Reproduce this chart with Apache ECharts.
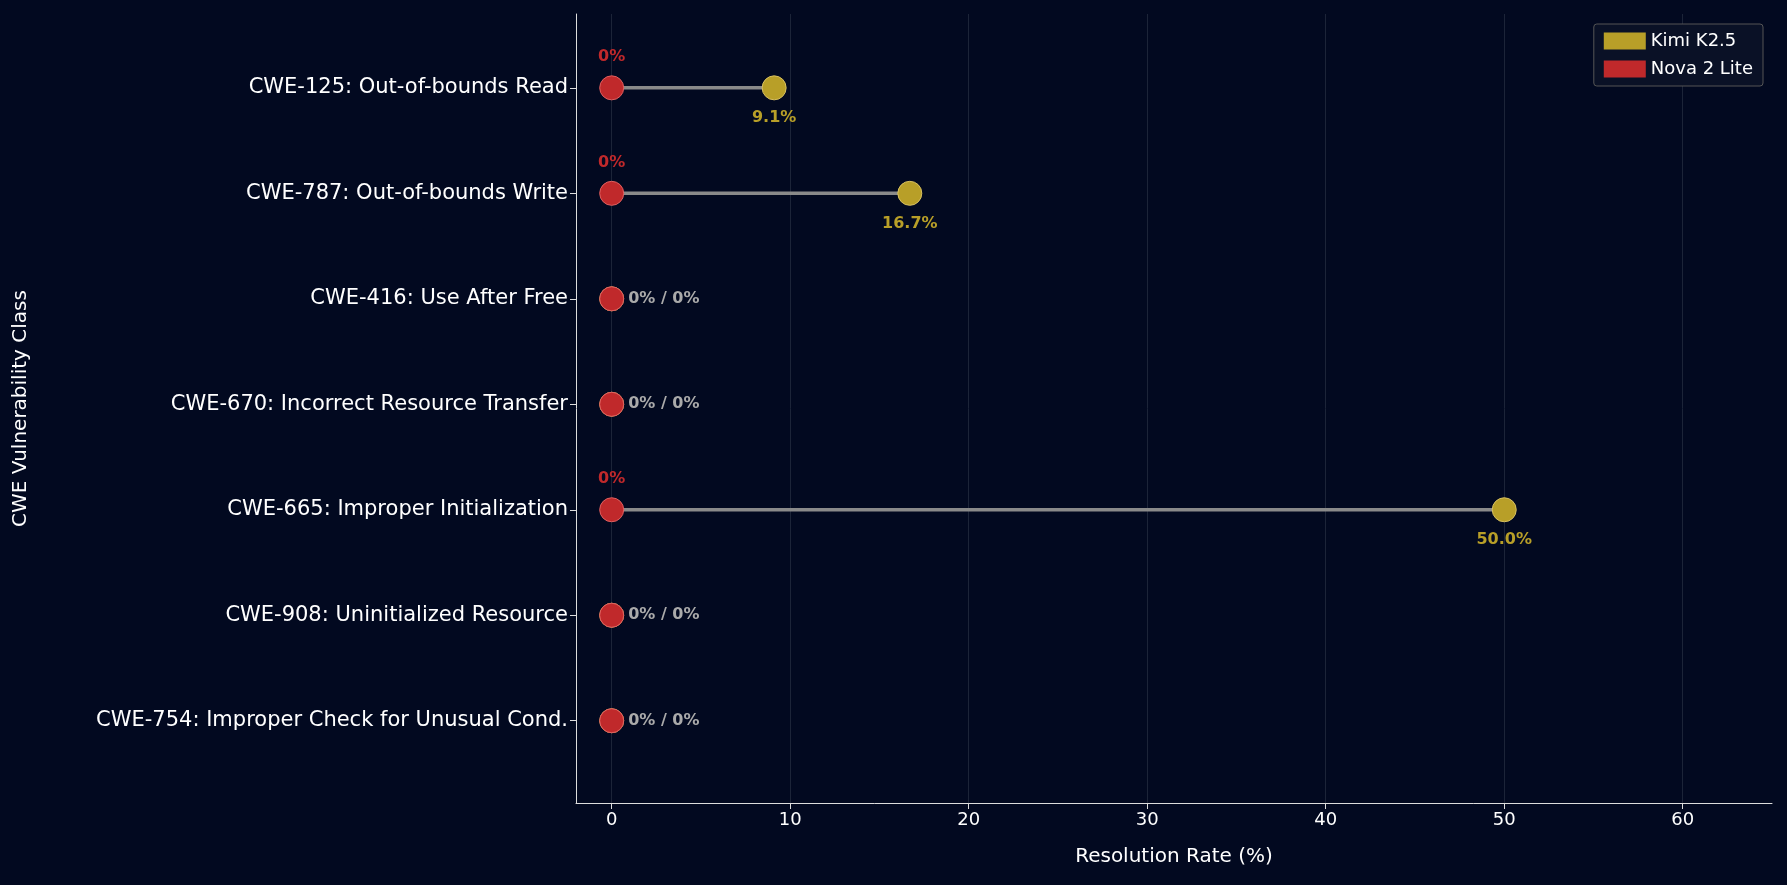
<!DOCTYPE html>
<html><head><meta charset="utf-8">
<script src="https://cdn.jsdelivr.net/npm/echarts@6/dist/echarts.min.js"></script>
<style>html,body{margin:0;background:#020920}#c{width:1787px;height:885px}</style>
</head><body><div id="c"></div>
<script>
const categories = ['CWE-125: Out-of-bounds Read', 'CWE-787: Out-of-bounds Write', 'CWE-416: Use After Free',
  'CWE-670: Incorrect Resource Transfer', 'CWE-665: Improper Initialization', 'CWE-908: Uninitialized Resource',
  'CWE-754: Improper Check for Unusual Cond.']
const kimi = [9.1, 16.7, 0, 0, 50.0, 0, 0]
const nova = [0, 0, 0, 0, 0, 0, 0]
const xTicks = [0, 10, 20, 30, 40, 50, 60]

const GOLD = '#b89f28', RED = '#c0292b'
const series = []
// 连接线
kimi.forEach((v, i) => {
  if (v !== nova[i]) {
    series.push({ type: 'line', silent: true, symbol: 'none', z: 1,
      lineStyle: { color: '#8a8a8a', width: 3.5 }, data: [[nova[i], i], [v, i]] })
  }
})
series.push({ name: 'Kimi K2.5', type: 'scatter', symbolSize: 24, z: 3,
  itemStyle: { color: GOLD, opacity: 1, borderColor: '#d8c060', borderWidth: 1 },
  data: kimi.map((v, i) => ({ value: [v, i],
    label: { show: v !== nova[i], position: 'bottom', distance: 10, formatter: v.toFixed(1) + '%',
      color: GOLD, fontWeight: 'bold', fontSize: 16 } })) })
series.push({ name: 'Nova 2 Lite', type: 'scatter', symbolSize: 24, z: 4,
  itemStyle: { color: RED, opacity: 1, borderColor: '#e06060', borderWidth: 1 },
  data: nova.map((v, i) => {
    const diff = kimi[i] !== v
    return { value: [v, i],
      label: diff
        ? { show: true, position: 'top', distance: 10, formatter: v + '%', color: RED, fontWeight: 'bold', fontSize: 16 }
        : { show: true, position: 'right', distance: 4, formatter: v + '% / ' + kimi[i] + '%', color: '#aaa', fontWeight: 'bold', fontSize: 16 } }
  }) })

const chart = echarts.init(document.getElementById('c'))
chart.setOption({
  backgroundColor: '#020920',
  textStyle: { fontFamily: 'DejaVu Sans' },
  animation: false,
  grid: { left: 576, right: 15, top: 14, bottom: 82 },
  legend: { right: 24, top: 24, orient: 'vertical', itemWidth: 42, itemHeight: 17, itemGap: 10,
    padding: [8, 10], borderColor: '#555', borderWidth: 1, borderRadius: 3, backgroundColor: '#0a1126',
    textStyle: { color: '#fff', fontSize: 18 },
    data: [{ name: 'Kimi K2.5', icon: 'rect', itemStyle: { color: GOLD, opacity: 1, borderWidth: 0 } },
      { name: 'Nova 2 Lite', icon: 'rect', itemStyle: { color: RED, opacity: 1, borderWidth: 0 } }] },
  xAxis: { type: 'value', min: -2, max: 65, interval: 10, name: 'Resolution Rate (%)', nameLocation: 'middle', nameGap: 44,
    nameTextStyle: { color: '#fff', fontSize: 20 },
    axisLine: { show: true, onZero: false, lineStyle: { color: '#ddd' } },
    axisTick: { show: true, length: 6, lineStyle: { color: '#ddd' }, customValues: xTicks },
    axisLabel: { color: '#fff', fontSize: 18, customValues: xTicks },
    splitLine: { show: true, lineStyle: { color: '#1c2438' } } },
  yAxis: { type: 'value', min: -0.7, max: 6.78, inverse: true, name: 'CWE Vulnerability Class', nameLocation: 'middle', nameGap: 545,
    nameTextStyle: { color: '#fff', fontSize: 20 },
    axisLine: { show: true, onZero: false, lineStyle: { color: '#ddd' } },
    axisTick: { show: true, length: 6, lineStyle: { color: '#ddd' }, customValues: categories.map((c, i) => i) },
    axisLabel: { color: '#fff', fontSize: 21, customValues: categories.map((c, i) => i), formatter: v => categories[v] },
    splitLine: { show: false } },
  series: series
})
</script></body></html>
